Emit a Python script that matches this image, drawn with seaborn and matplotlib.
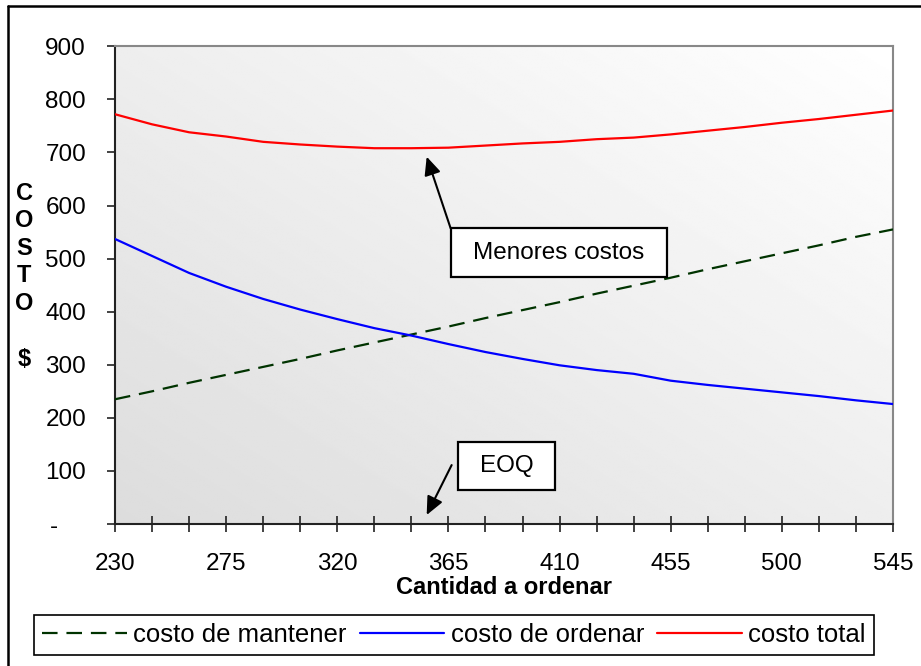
import numpy as np
import pandas as pd
import matplotlib
matplotlib.use("Agg")
import matplotlib.pyplot as plt
import seaborn as sns
from matplotlib.patches import Rectangle
from matplotlib.lines import Line2D
from matplotlib.transforms import ScaledTranslation

# ---- data ----
cantidad = [230, 245, 260, 275, 290, 305, 320, 335, 350, 365, 380,
            395, 410, 425, 440, 455, 470, 485, 500, 515, 530, 545]
costo_mantener = [235, 250, 266, 281, 296, 311, 327, 342, 357, 372, 388,
                  403, 418, 434, 449, 464, 480, 495, 510, 525, 541, 555]
costo_ordenar = [537, 505, 473, 447, 424, 404, 386, 369, 355, 339, 324,
                 311, 299, 290, 283, 270, 262, 255, 248, 241, 233, 226]
costo_total = [772, 753, 738, 730, 720, 715, 711, 708, 708, 709, 713,
               717, 720, 725, 728, 734, 741, 748, 756, 763, 771, 779]

series_names = ["costo de mantener", "costo de ordenar", "costo total"]
series_colors = ["#003300", "#0000FF", "#FF0000"]
x_label_values = [230, 275, 320, 365, 410, 455, 500, 545]
y_ticks = [0, 100, 200, 300, 400, 500, 600, 700, 800, 900]
y_tick_labels = ["-", "100", "200", "300", "400", "500", "600", "700", "800", "900"]

df = pd.DataFrame({
    "Cantidad": cantidad * 3,
    "Costo": costo_mantener + costo_ordenar + costo_total,
    "Serie": [series_names[0]] * len(cantidad)
             + [series_names[1]] * len(cantidad)
             + [series_names[2]] * len(cantidad),
})

sns.set_theme(style="white")
plt.rcParams["font.family"] = ["Liberation Sans", "DejaVu Sans"]

W, H = 921, 666
fig = plt.figure(figsize=(W / 100, H / 100), dpi=100)
fig.patch.set_facecolor("white")


def fx(px):
    return px / W


def fy(py):
    return 1 - py / H


ax = fig.add_axes([fx(115), fy(524), fx(893) - fx(115), fy(46.3) - fy(524)])

# diagonal grey-to-white fill of the plot area
n = 256
gx, gy = np.meshgrid(np.linspace(0, 1, n), np.linspace(0, 1, n))
shade = 0.865 + 0.135 * (gx + gy) / 2
ax.imshow(shade, extent=[0, 1, 0, 1], transform=ax.transAxes, origin="lower",
          cmap="gray", vmin=0, vmax=1, aspect="auto", zorder=0,
          interpolation="bilinear")

palette = dict(zip(series_names, series_colors))
dashes = {series_names[0]: (7, 4), series_names[1]: "", series_names[2]: ""}
sns.lineplot(data=df, x="Cantidad", y="Costo", hue="Serie", style="Serie",
             palette=palette, dashes=dashes, linewidth=1.6, ax=ax,
             legend=False, zorder=3)

ax.set_xlim(cantidad[0], cantidad[-1])
ax.set_ylim(0, 900)

# axes frame
for side in ("left", "bottom"):
    ax.spines[side].set_color("#222222")
    ax.spines[side].set_linewidth(1.5)
for side in ("top", "right"):
    ax.spines[side].set_color("#888888")
    ax.spines[side].set_linewidth(1.5)
    ax.spines[side].set_visible(True)

ax.set_xticks(cantidad)
ax.set_xticklabels([str(v) if v in x_label_values else "" for v in cantidad])
ax.set_yticks(y_ticks)
ax.set_yticklabels(y_tick_labels)
ax.tick_params(axis="x", direction="inout", length=11.5, width=1.2,
               color="#222222", labelsize=17.5, labelcolor="black", pad=15,
               bottom=True)
ax.tick_params(axis="y", direction="out", length=5.8, width=1.2,
               color="#222222", labelsize=17.5, labelcolor="black", pad=15,
               left=True)
# the zero label sits further left
zero_lbl = ax.get_yticklabels()[0]
zero_lbl.set_transform(zero_lbl.get_transform()
                       + ScaledTranslation(-0.28, 0, fig.dpi_scale_trans))

ax.set_xlabel("Cantidad a ordenar", fontsize=17, fontweight="bold",
              color="black", labelpad=1)
ax.set_ylabel("")

# vertical axis title, one letter per line
for ch, py in zip(["C", "O", "S", "T", "O", "$"],
                  [193.3, 220.5, 248, 275.5, 303.3, 359]):
    fig.text(fx(24), fy(py), ch, ha="center", va="center", fontsize=17,
             fontweight="bold", color="black")

# callout: lowest costs
ax.add_patch(Rectangle((365.9, 466), 453.6 - 365.9, 557 - 466,
                       facecolor="white", edgecolor="black", lw=1.6,
                       zorder=5))
ax.text(409.8, 511.5, "Menores costos", ha="center", va="center",
        fontsize=17.5, color="black", zorder=6)
ax.annotate("", xy=(356.2, 692), xytext=(365.9, 557),
            arrowprops=dict(arrowstyle="-|>,head_length=1.1,head_width=0.5",
                            color="black", lw=1.5, shrinkA=0, shrinkB=0,
                            mutation_scale=10), zorder=6)

# callout: EOQ
ax.add_patch(Rectangle((369, 64), 408.3 - 369, 155 - 64,
                       facecolor="white", edgecolor="black", lw=1.6,
                       zorder=5))
ax.text(388.6, 109.5, "EOQ", ha="center", va="center", fontsize=17.5,
        color="black", zorder=6)
ax.annotate("", xy=(356.2, 17), xytext=(366.3, 111),
            arrowprops=dict(arrowstyle="-|>,head_length=1.1,head_width=0.5",
                            color="black", lw=1.5, shrinkA=0, shrinkB=0,
                            mutation_scale=10), zorder=6)

# legend below the axis
handles = [
    Line2D([], [], color=series_colors[0], lw=1.6, dashes=(7, 4)),
    Line2D([], [], color=series_colors[1], lw=1.6),
    Line2D([], [], color=series_colors[2], lw=1.6),
]
leg = ax.legend(handles, series_names, loc="center",
                bbox_to_anchor=(fx(454), fy(635)),
                bbox_transform=fig.transFigure, ncol=3, frameon=True,
                fancybox=False, edgecolor="black", framealpha=1,
                fontsize=18.5, handlelength=3.3, handletextpad=0.25,
                columnspacing=0.5, borderpad=0.3, borderaxespad=0)
leg.get_frame().set_linewidth(1.2)
for t in leg.get_texts():
    t.set_color("black")

# outer chart border
fig.add_artist(Line2D([fx(8.3), fx(8.3)], [fy(6), 0], transform=fig.transFigure,
                      color="black", lw=1.8))
fig.add_artist(Line2D([fx(8.3), 1], [fy(6), fy(6)], transform=fig.transFigure,
                      color="black", lw=1.8))

fig.savefig("out.png", dpi=100)
